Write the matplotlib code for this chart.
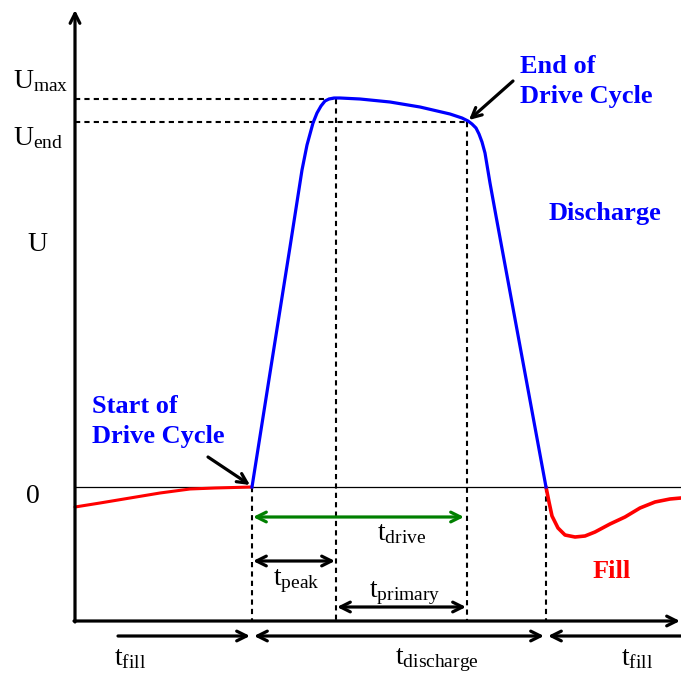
import numpy as np
import matplotlib.pyplot as plt

plt.rcParams['font.family'] = ['Liberation Serif', 'DejaVu Serif']
plt.rcParams['mathtext.fontset'] = 'custom'
plt.rcParams['mathtext.rm'] = 'Liberation Serif'
plt.rcParams['mathtext.it'] = 'Liberation Serif:italic'

# curve points (drawing units, y grows downward)
discharge_x = [252, 270, 290, 302, 307, 313, 317, 321, 325, 329, 334, 340, 360, 390, 420, 450,
               462, 468, 472, 476, 479, 482, 485, 490, 496, 520, 546]
discharge_y = [487, 373, 247, 170, 145, 123, 113, 106, 101, 99, 98, 98, 99, 102, 107, 114,
               118, 121, 124, 128, 134, 142, 153, 183, 216, 346, 487]
fill_left_x = [75, 100, 130, 160, 190, 215, 252]
fill_left_y = [507, 503, 498, 493, 489, 488, 487]
fill_right_x = [546, 549, 552, 558, 565, 575, 585, 595, 610, 625, 640, 655, 670, 681]
fill_right_y = [487, 502, 516, 528, 535, 537, 536, 532, 524, 517, 508, 502, 499, 498]

# key levels / instants
x_axis_y, zero_y, umax_y, uend_y = 621, 487, 99, 122
t_start, t_pk, t_end, t_dis = 252, 336, 467, 546

fig = plt.figure(figsize=(6.81, 6.75), dpi=100)
ax = fig.add_axes([0, 0, 1, 1])
ax.set_xlim(0, 681)
ax.set_ylim(675, 0)
ax.axis('off')

# axes with arrow heads
head = dict(arrowstyle='->,head_length=0.7,head_width=0.35', color='black', lw=2.3,
            shrinkA=0, shrinkB=0)
ax.annotate('', xy=(75, 10), xytext=(75, x_axis_y + 1), arrowprops=head)
ax.annotate('', xy=(680, x_axis_y), xytext=(74, x_axis_y), arrowprops=head)
ax.plot([75, 681], [zero_y, zero_y], color='black', lw=0.9)

# dashed guide lines
dash = dict(color='black', lw=1.5, ls=(0, (2.5, 2)))
ax.plot([75, t_pk], [umax_y, umax_y], **dash)
ax.plot([75, t_end], [uend_y, uend_y], **dash)
ax.plot([t_start, t_start], [zero_y, x_axis_y], **dash)
ax.plot([t_pk, t_pk], [umax_y, x_axis_y], **dash)
ax.plot([t_end, t_end], [uend_y, x_axis_y], **dash)
ax.plot([t_dis, t_dis], [zero_y, x_axis_y], **dash)

# curves
ax.plot(fill_left_x, fill_left_y, color='#ff0000', lw=2.2, solid_capstyle='round')
ax.plot(fill_right_x, fill_right_y, color='#ff0000', lw=2.6, solid_capstyle='round',
        solid_joinstyle='round')
ax.plot(discharge_x, discharge_y, color='#0000ff', lw=2.3, solid_joinstyle='round')

# duration arrows
dbl = dict(arrowstyle='<->,head_length=0.7,head_width=0.35', lw=2.3, shrinkA=0, shrinkB=0)
ax.annotate('', xy=(464, 517), xytext=(253, 517), arrowprops=dict(dbl, color='#008000'))
ax.annotate('', xy=(335, 561), xytext=(253, 561), arrowprops=dict(dbl, color='black'))
ax.annotate('', xy=(466, 607), xytext=(337, 607), arrowprops=dict(dbl, color='black'))
ax.annotate('', xy=(250, 636), xytext=(118, 636), arrowprops=dict(head))
ax.annotate('', xy=(544, 636), xytext=(254, 636), arrowprops=dict(dbl, color='black'))
ax.annotate('', xy=(548, 636), xytext=(684, 636), arrowprops=dict(head))

# pointer arrows
ax.annotate('', xy=(250, 485), xytext=(208, 457), arrowprops=dict(head))
ax.annotate('', xy=(469, 120), xytext=(513, 81), arrowprops=dict(head))

# labels
fs = 20
ax.text(13, 88, r'$\mathrm{U_{max}}$', fontsize=fs, ha='left', va='baseline')
ax.text(13, 145, r'$\mathrm{U_{end}}$', fontsize=fs, ha='left', va='baseline')
ax.text(27, 251, 'U', fontsize=fs, ha='left', va='baseline')
ax.text(26, 503, '0', fontsize=fs, ha='left', va='baseline')

ax.text(402, 540, r'$\mathrm{t_{drive}}$', fontsize=fs, ha='center', va='baseline')
ax.text(296, 585, r'$\mathrm{t_{peak}}$', fontsize=fs, ha='center', va='baseline')
ax.text(405, 597, r'$\mathrm{t_{primary}}$', fontsize=fs, ha='center', va='baseline')
ax.text(130, 665, r'$\mathrm{t_{fill}}$', fontsize=fs, ha='center', va='baseline')
ax.text(437, 664, r'$\mathrm{t_{discharge}}$', fontsize=fs, ha='center', va='baseline')
ax.text(637, 665, r'$\mathrm{t_{fill}}$', fontsize=fs, ha='center', va='baseline')

bfs = 19
ax.text(520, 73, 'End of', fontsize=bfs, fontweight='bold', color='#0000ff', va='baseline')
ax.text(520, 103, 'Drive Cycle', fontsize=bfs, fontweight='bold', color='#0000ff', va='baseline')
ax.text(92, 413, 'Start of', fontsize=bfs, fontweight='bold', color='#0000ff', va='baseline')
ax.text(92, 443, 'Drive Cycle', fontsize=bfs, fontweight='bold', color='#0000ff', va='baseline')
ax.text(549, 220, 'Discharge', fontsize=bfs, fontweight='bold', color='#0000ff', va='baseline')
ax.text(612, 578, 'Fill', fontsize=bfs, fontweight='bold', color='#ff0000', ha='center', va='baseline')

fig.savefig('out.png', dpi=100)
